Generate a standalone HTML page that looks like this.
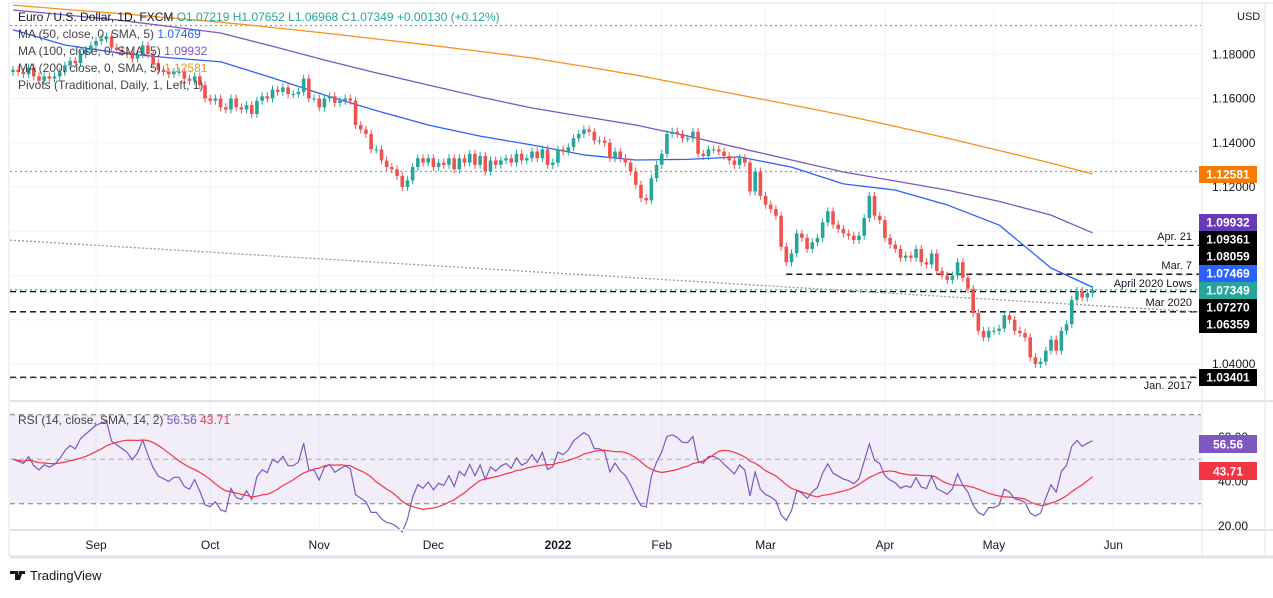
<!DOCTYPE html>
<html><head><meta charset="utf-8">
<style>
body{margin:0;background:#fff;width:1273px;height:593px;overflow:hidden;font-family:"Liberation Sans",sans-serif}
svg text{font-family:"Liberation Sans",sans-serif}
</style></head>
<body>
<svg id="chart" width="1273" height="593" xmlns="http://www.w3.org/2000/svg">
<rect x="0" y="0" width="1273" height="593" fill="#fff"/>
<g id="grid"></g>
<g id="levels"></g>
<g id="mas"></g>
<g id="candles"></g>
<g id="rsi"></g>
<g id="axes"></g>
<g font-size="12" fill="#131722">
<text x="18" y="21">Euro / U.S. Dollar, 1D, FXCM  <tspan fill="#26a69a">O1.07219  H1.07652  L1.06968  C1.07349  +0.00130 (+0.12%)</tspan></text>
<text x="18" y="38" fill="#444">MA (50, close, 0, SMA, 5) <tspan fill="#2962ff">1.07469</tspan></text>
<text x="18" y="55" fill="#444">MA (100, close, 0, SMA, 5) <tspan fill="#7e57c2">1.09932</tspan></text>
<text x="18" y="72" fill="#444">MA (200, close, 0, SMA, 5) <tspan fill="#f7931a">1.12581</tspan></text>
<text x="18" y="89" fill="#444">Pivots (Traditional, Daily, 1, Left, 1)</text>
<text x="18" y="424" fill="#444">RSI (14, close, SMA, 14, 2) <tspan fill="#7e57c2">56.56</tspan> <tspan fill="#f23645">43.71</tspan></text>
</g>
<g font-size="11" fill="#131722" text-anchor="end">
<text x="1192" y="240">Apr. 21</text>
<text x="1192" y="269">Mar. 7</text>
<text x="1192" y="287">April 2020 Lows</text>
<text x="1192" y="306">Mar 2020</text>
<text x="1192" y="389">Jan. 2017</text>
</g>
<g>
<path d="M10 571h8v9h-3v-6h-5z M19 571h4l-3 9h-3z M22 571h3v3h-3z" fill="#131722"/>
<text x="30" y="580" font-size="13" fill="#131722">TradingView</text>
</g>
</svg>
<script>
// ---- data ----
const closes = [
1.173,1.172,1.171,1.174,1.170,1.168,1.170,1.169,1.170,1.172,
1.175,1.177,1.176,1.180,1.182,1.184,1.186,1.187,1.188,1.183,
1.182,1.181,1.180,1.178,1.180,1.184,1.180,1.176,1.173,1.172,
1.171,1.172,1.172,1.169,1.168,1.170,1.166,1.160,1.159,1.160,
1.156,1.155,1.160,1.156,1.155,1.157,1.153,1.159,1.161,1.160,
1.164,1.163,1.165,1.162,1.162,1.163,1.169,1.160,1.160,1.156,
1.160,1.161,1.158,1.159,1.160,1.159,1.148,1.146,1.144,1.137,
1.137,1.132,1.129,1.128,1.125,1.120,1.123,1.129,1.133,1.131,
1.133,1.129,1.131,1.130,1.133,1.128,1.133,1.131,1.135,1.130,
1.134,1.127,1.132,1.130,1.132,1.133,1.131,1.135,1.132,1.133,
1.136,1.133,1.137,1.130,1.131,1.137,1.136,1.138,1.142,1.144,
1.146,1.145,1.141,1.141,1.140,1.133,1.136,1.133,1.131,1.127,
1.121,1.115,1.114,1.124,1.130,1.135,1.144,1.145,1.144,1.142,
1.142,1.145,1.135,1.134,1.137,1.137,1.136,1.134,1.132,1.130,
1.133,1.131,1.118,1.127,1.116,1.112,1.110,1.107,1.093,1.086,
1.090,1.099,1.097,1.092,1.095,1.097,1.104,1.109,1.103,1.101,
1.099,1.098,1.096,1.098,1.106,1.116,1.107,1.105,1.097,1.094,
1.092,1.088,1.089,1.088,1.092,1.086,1.085,1.090,1.082,1.080,
1.078,1.080,1.086,1.079,1.074,1.063,1.055,1.052,1.055,1.055,
1.056,1.062,1.060,1.055,1.054,1.052,1.043,1.040,1.041,1.046,
1.051,1.046,1.055,1.058,1.069,1.073,1.070,1.072,1.0735];
const maBars = [0,10,20,30,40,50,60,70,80,90,100,110,120,130,140,150,160,170,180,190,200,208];
const ma50 = [1.1911,1.1842,1.1807,1.1784,1.1766,1.1693,1.1616,1.1545,1.1480,1.1430,1.1390,1.1345,1.1322,1.1325,1.1336,1.1290,1.1214,1.1186,1.1119,1.1028,1.0834,1.0747];
const ma100 = [1.2000,1.1978,1.1955,1.1926,1.1896,1.1836,1.1774,1.1716,1.1661,1.1607,1.1557,1.1518,1.1480,1.1430,1.1376,1.1322,1.1268,1.1227,1.1186,1.1135,1.1073,1.0993];
const ma200 = [1.2022,1.2003,1.1985,1.1965,1.1945,1.1921,1.1896,1.1869,1.1842,1.1813,1.1783,1.1745,1.1706,1.1661,1.1616,1.1571,1.1525,1.1474,1.1421,1.1365,1.1308,1.1259];
const priceTicks = [1.18,1.16,1.14,1.12,1.04];
const priceTickLabels = ["1.18000","1.16000","1.14000","1.12000","1.04000"];
const rsiTicks = [60,40,20];
const rsiTickLabels = ["60.00","40.00","20.00"];
const monthBars = [16,38,59,81,105,125,145,168,189,212];
const monthLabels = ["Sep","Oct","Nov","Dec","2022","Feb","Mar","Apr","May","Jun"];
const boxValues = [1.12581,1.09932,1.09361,1.08059,1.07469,1.07349,1.07270,1.06359,1.03401];
const boxColors = ["#f57c00","#673ab7","#000","#000","#2962ff","#26a69a","#000","#000","#000"];
const fullLevels = [1.07270,1.06359,1.03401];
const apr21Level = 1.09361, mar7Level = 1.08059, lastClose = 1.07349, ma200Dot = 1.12700, topDot = 1.1930;
const diagStart = 1.0960, diagEnd = 1.0635;

// ---- axes ----
const NS='http://www.w3.org/2000/svg';
const xOf = i => 13 + i*5.19;
const yP = p => 364 - (p-1.04)*2212.5;
const yR = v => 526 - (v-20)*2.225;
const R = 1201;
function mk(tag, attrs, parent){const e=document.createElementNS(NS,tag);for(const k in attrs)e.setAttribute(k,attrs[k]);parent.appendChild(e);return e;}
const grid=document.getElementById('grid'),levels=document.getElementById('levels'),mas=document.getElementById('mas'),cg=document.getElementById('candles'),rg=document.getElementById('rsi'),ax=document.getElementById('axes');

[1.18,1.16,1.14,1.12,1.10,1.08,1.06,1.04].forEach(p=>{const l=mk('line',{x1:10,x2:R,y1:yP(p),y2:yP(p),stroke:'#f0f3fa'},grid);

});
monthBars.forEach(b=>{const l=mk('line',{x1:xOf(b),x2:xOf(b),y1:4,y2:530,stroke:'#f0f3fa'},grid);

});

function lvl(x1,p,dash,color,name){const l=mk('line',{x1:x1,x2:R,y1:yP(p),y2:yP(p),stroke:color,'stroke-dasharray':dash,'stroke-width':1.3},levels);

}
lvl(10,topDot,'2 3','#999','top-dotted-line');
lvl(10,ma200Dot,'2 3','#999','ma200-dotted-line');
lvl(xOf(182),apr21Level,'6 4','#000','apr21-level');
lvl(xOf(149),mar7Level,'6 4','#000','mar7-level');
lvl(10,lastClose,'2 3','#26a69a','last-price-line');
fullLevels.forEach(p=>lvl(10,p,'6 4','#000','support-level'));
lvl(10,1.0336,'2 3','#999','jan2017-dotted');
const dg=mk('line',{x1:10,x2:R,y1:yP(diagStart),y2:yP(diagEnd),stroke:'#999','stroke-dasharray':'2 2','stroke-width':1.3},levels);



function maLine(vals,color,name){const pts=vals.map((v,k)=>xOf(maBars[k])+','+yP(v)).join(' ');
const pl=mk('polyline',{points:pts,fill:'none',stroke:color,'stroke-width':1.3,'stroke-linejoin':'round'},mas);

}
maLine(ma200,'#f7931a','ma200-line');maLine(ma100,'#7e57c2','ma100-line');maLine(ma50,'#2962ff','ma50-line');

closes.forEach((c,i)=>{const o=i?closes[i-1]:c-0.001;const up=c>=o;const col=up?'#26a69a':'#ef5350';
const hi=Math.max(o,c)+0.0018,lo=Math.min(o,c)-0.0018;const x=xOf(i);
const w=mk('line',{x1:x,x2:x,y1:yP(hi),y2:yP(lo),stroke:col},cg);


const top=yP(Math.max(o,c)),h=Math.max(1,yP(Math.min(o,c))-top);
const b=mk('rect',{x:x-1.8,y:top,width:3.6,height:h,fill:col},cg);

});

mk('rect',{x:10,y:yR(70),width:R-10,height:yR(30)-yR(70),fill:'rgba(126,87,194,0.1)'},rg);
[70,30].forEach(v=>mk('line',{x1:10,x2:R,y1:yR(v),y2:yR(v),stroke:'#787b86','stroke-dasharray':'5 4'},rg));
mk('line',{x1:10,x2:R,y1:yR(50),y2:yR(50),stroke:'#aaa','stroke-dasharray':'5 4'},rg);
let ag=0,al=0;const rsi=[];
for(let i=0;i<closes.length;i++){const d=i?closes[i]-closes[i-1]:0;const g=Math.max(d,0),l=Math.max(-d,0);
if(i===0){ag=0.002;al=0.002;}else{ag=(ag*13+g)/14;al=(al*13+l)/14;}rsi.push(100-100/(1+ag/Math.max(al,1e-9)));}
const rsiMa=rsi.map((v,i)=>{const s=rsi.slice(Math.max(0,i-13),i+1);return s.reduce((a,b)=>a+b,0)/s.length;});
const rl=mk('polyline',{points:rsi.map((v,i)=>xOf(i)+','+yR(v)).join(' '),fill:'none',stroke:'#7e57c2','stroke-width':1.2},rg);


const rm=mk('polyline',{points:rsiMa.map((v,i)=>xOf(i)+','+yR(v)).join(' '),fill:'none',stroke:'#f23645','stroke-width':1.2},rg);



mk('line',{x1:10,x2:1273,y1:3,y2:3,stroke:'#e0e3eb'},ax);
mk('line',{x1:10,x2:1273,y1:401,y2:401,stroke:'#e0e3eb','stroke-width':2},ax);
mk('line',{x1:10,x2:1273,y1:530,y2:530,stroke:'#e0e3eb','stroke-width':2},ax);
mk('line',{x1:10,x2:1273,y1:557,y2:557,stroke:'#e0e3eb','stroke-width':3},ax);
mk('line',{x1:9,x2:9,y1:3,y2:557,stroke:'#e0e3eb'},ax);
mk('line',{x1:R+1,x2:R+1,y1:3,y2:557,stroke:'#e0e3eb'},ax);
mk('line',{x1:1265,x2:1265,y1:3,y2:557,stroke:'#e0e3eb'},ax);
const usd=mk('text',{x:1237,y:20,'font-size':11,fill:'#131722'},ax);usd.textContent='USD';


priceTicks.forEach((p,k)=>{const t=mk('text',{x:1212,y:yP(p)+4,'font-size':12,fill:'#131722'},ax);t.textContent=priceTickLabels[k];

});
rsiTicks.forEach((v,k)=>{const t=mk('text',{x:1218,y:yR(v)+4,'font-size':12,fill:'#131722'},ax);t.textContent=rsiTickLabels[k];

});
monthLabels.forEach((m,k)=>{const t=mk('text',{x:xOf(monthBars[k]),y:549,'font-size':12,fill:'#131722','text-anchor':'middle','font-weight':m==='2022'?'bold':'normal'},ax);t.textContent=m;

});
const boxY=[174,222,239,256,273,290,307,324,377];
boxValues.forEach((v,k)=>{const g=mk('g',{},ax);


mk('rect',{x:1199,y:boxY[k]-8,width:58,height:17,fill:boxColors[k]},g);
const t=mk('text',{x:1228,y:boxY[k]+4.5,'font-size':12,fill:'#fff','text-anchor':'middle','font-weight':'bold'},g);t.textContent=v.toFixed(5);});
[[56.56,'#7e57c2',444],[43.71,'#f23645',471]].forEach(a=>{const g=mk('g',{},ax);


mk('rect',{x:1199,y:a[2]-9,width:58,height:18,fill:a[1]},g);
const t=mk('text',{x:1228,y:a[2]+4.5,'font-size':12,fill:'#fff','text-anchor':'middle','font-weight':'bold'},g);t.textContent=a[0].toFixed(2);});
</script>
</body></html>
